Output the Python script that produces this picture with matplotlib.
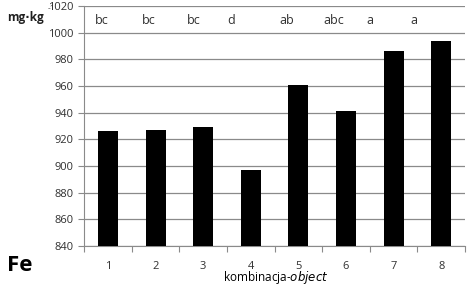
import matplotlib.pyplot as plt

# dane
kombinacje = [1, 2, 3, 4, 5, 6, 7, 8]
fe = [926, 927, 929, 897, 961, 941, 986, 994]
litery = ["bc", "bc", "bc", "d", "ab", "abc", "a", "a"]
pozycje_liter = [0.88, 1.85, 2.8, 3.58, 4.75, 5.75, 6.5, 7.42]

plt.rcParams['font.family'] = ['Open Sans', 'DejaVu Sans']

fig = plt.figure(figsize=(4.75, 2.86), dpi=100)
ax = fig.add_axes([0.177, 0.14, 0.802, 0.839])

ax.bar(kombinacje, fe, width=0.42, color='black', zorder=3)
ax.set_ylim(840, 1020)
ax.set_xlim(0.5, 8.5)
ax.set_yticks(range(840, 1021, 20))
ax.yaxis.grid(True, color='#8a8a8a', linewidth=0.9, zorder=0)

ax.set_xticks([i + 0.5 for i in range(0, 9)], minor=False)
ax.set_xticklabels([])
ax.set_xticks(kombinacje, minor=True)
ax.set_xticklabels([str(k) for k in kombinacje], minor=True)
ax.tick_params(axis='x', which='minor', length=0, pad=11, labelsize=8, labelcolor='#303030')
ax.tick_params(axis='x', which='major', length=4, color='#8a8a8a', direction='out')
ax.tick_params(axis='y', length=4, color='#8a8a8a', labelsize=8, labelcolor='#303030')

for s in ['top', 'right']:
    ax.spines[s].set_visible(False)
ax.spines['left'].set_color('#8a8a8a')
ax.spines['bottom'].set_color('#8a8a8a')

for x, t in zip(pozycje_liter, litery):
    ax.text(x, 1009.5, t, ha='center', va='center', fontsize=9, color='#303030')

fig.text(0.58, 0.0, "kombinacja-$\\it{object}$", ha='center', va='bottom', fontsize=8.5)
fig.text(0.015, 0.035, "Fe", fontsize=16, fontweight='bold', ha='left', va='bottom')
fig.text(0.015, 0.94, "mg\u2219kg", fontsize=8.5, fontweight='bold', ha='left', va='center', color='#202020')
fig.text(0.1, 0.97, "-1", fontsize=6, ha='left', va='center', color='#303030')

fig.savefig("out.png", dpi=100)
